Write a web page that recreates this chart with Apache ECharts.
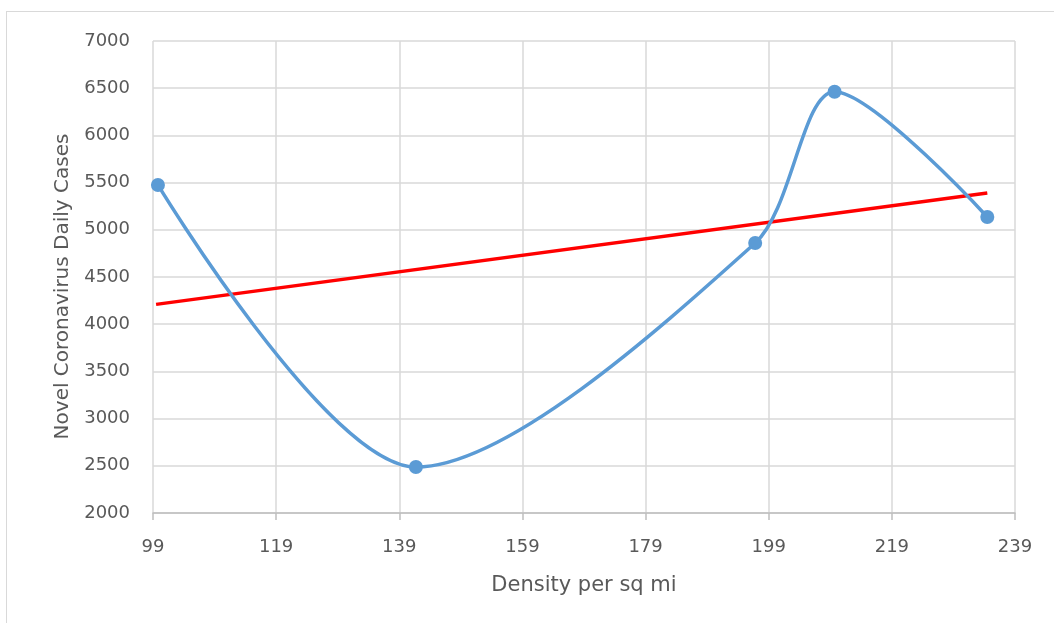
<!DOCTYPE html>
<html><head><meta charset="utf-8">
<script src="https://cdn.jsdelivr.net/npm/echarts@6/dist/echarts.min.js"></script>
<style>
html,body{margin:0;padding:0;background:#fff;}
#frame{position:absolute;left:6px;top:11px;width:1100px;height:700px;border:1px solid #d9d9d9;box-sizing:border-box;}
#c{position:absolute;left:0;top:0;width:1054px;height:623px;}
</style></head>
<body>
<div id="frame"></div>
<div id="c"></div>
<script>
const densityX = [99.8, 141.7, 196.8, 209.7, 234.5];
const dailyCases = [5475, 2487, 4860, 6463, 5136];
const trendX = [99.5, 234.5];
const trendY = [4210, 5390];
const xTicks = [99, 119, 139, 159, 179, 199, 219, 239];
const yTicks = [2000, 2500, 3000, 3500, 4000, 4500, 5000, 5500, 6000, 6500, 7000];

const font = "'DejaVu Sans',sans-serif";
const chart = echarts.init(document.getElementById('c'));
chart.setOption({
  animation: false,
  grid: {left: 153, right: 39, top: 41, bottom: 110},
  xAxis: {
    type: 'value', min: xTicks[0], max: xTicks[xTicks.length-1], interval: 20,
    name: 'Density per sq mi', nameLocation: 'middle', nameGap: 62,
    nameTextStyle: {color: '#595959', fontSize: 21, fontFamily: font},
    axisLine: {show: true, lineStyle: {color: '#bfbfbf', width: 1.5}},
    axisTick: {show: true, length: 7, lineStyle: {color: '#bfbfbf', width: 1.5}},
    axisLabel: {color: '#595959', fontSize: 18, fontFamily: font, margin: 25},
    splitLine: {show: true, lineStyle: {color: '#d9d9d9', width: 1.5}}
  },
  yAxis: {
    type: 'value', min: yTicks[0], max: yTicks[yTicks.length-1], interval: 500,
    name: 'Novel Coronavirus Daily Cases', nameLocation: 'middle', nameGap: 80,
    nameTextStyle: {color: '#595959', fontSize: 20, fontFamily: font, padding: [0, 19, 0, 0]},
    axisLine: {show: false}, axisTick: {show: false},
    axisLabel: {color: '#595959', fontSize: 18, fontFamily: font, margin: 23,
      formatter: v => String(v)},
    splitLine: {show: true, lineStyle: {color: '#d9d9d9', width: 1.5}}
  },
  series: [
    {
      type: 'line', smooth: 0.3,
      data: densityX.map((x, i) => [x, dailyCases[i]]),
      symbol: 'circle', symbolSize: 14,
      lineStyle: {color: '#5b9bd5', width: 3.5},
      itemStyle: {color: '#5b9bd5'},
      z: 3
    },
    {
      type: 'line', smooth: false,
      data: trendX.map((x, i) => [x, trendY[i]]),
      symbol: 'none',
      lineStyle: {color: '#ff0000', width: 3.5},
      z: 2
    }
  ]
});
</script>
</body></html>
